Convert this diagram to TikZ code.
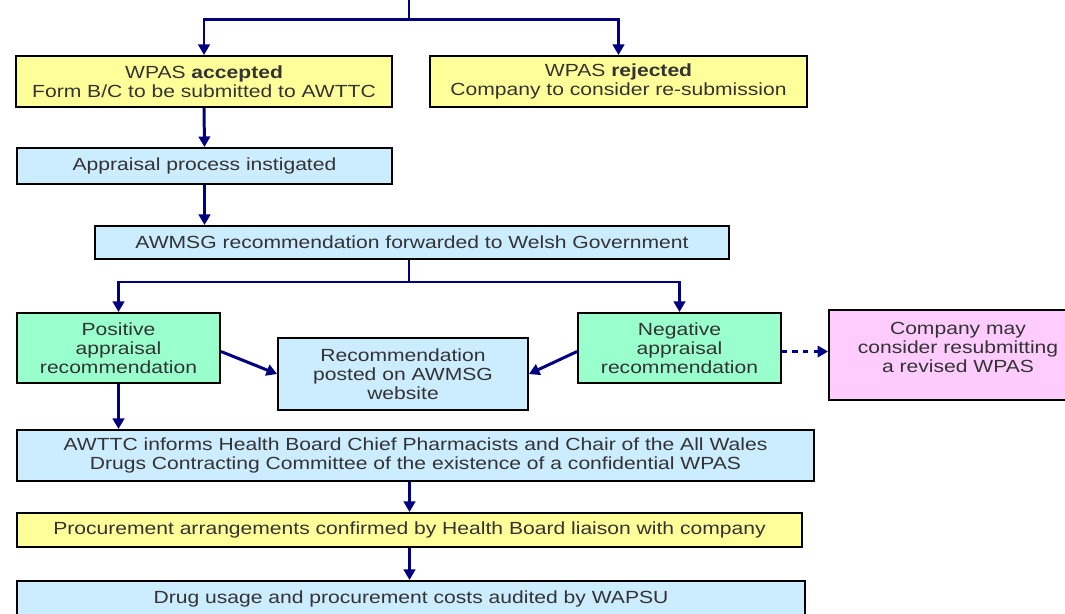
\documentclass[tikz,border=0pt]{standalone}
\usepackage{fontspec}
\setmainfont{Liberation Sans}[FakeStretch=1.2]
\usetikzlibrary{arrows.meta, positioning, calc}
\definecolor{navy1}{RGB}{0, 0, 128}
\definecolor{yellow1}{RGB}{255, 255, 153}
\definecolor{blue1}{RGB}{204, 236, 255}
\definecolor{green1}{RGB}{153, 255, 204}
\definecolor{pink1}{RGB}{255, 204, 255}
\tikzset{
  boxtext/.style={align=center, inner sep=0pt,
    font=\fontsize{10}{10.8}\selectfont, text=black!80},
  box/.style={boxtext, draw=black, line width=1.1pt},
  wpasbox/.style={box, fill=yellow1},
  stagebox/.style={box, fill=blue1},
  outcomebox/.style={box, fill=green1},
  resubbox/.style={box, fill=pink1},
  link/.style={draw=navy1, line width=1.7pt},
  flow/.style={link, -{Triangle[length=6pt, width=6.5pt]}},
}

\begin{document}
\begin{tikzpicture}[x=0.02cm, y=-0.02cm]
  \useasboundingbox (0,0) rectangle (1065,614);
  \clip (0,0) rectangle (1065,614);

  % decision on the WPAS
  \node[wpasbox, minimum width=7.52cm, minimum height=1.02cm] (accepted) at (204,81.5)
    {WPAS \textbf{accepted}\\Form B/C to be submitted to AWTTC};
  \node[wpasbox, minimum width=7.54cm, minimum height=1.02cm] (rejected) at (618.5,81.5)
    {WPAS \textbf{rejected}\\Company to consider re-submission};

  % appraisal
  \node[stagebox, minimum width=7.5cm, minimum height=0.72cm] (appraisal) at (204.5,166)
    {Appraisal process instigated};
  \node[stagebox, minimum width=12.68cm, minimum height=0.66cm] (awmsg) at (412,242.5)
    {AWMSG recommendation forwarded to Welsh Government};

  % outcomes
  \node[outcomebox, minimum width=4.06cm, minimum height=1.4cm] (positive) at (118.5,348)
    {Positive\\appraisal\\recommendation};
  \node[stagebox, minimum width=5cm, minimum height=1.44cm] (posted) at (403,374)
    {Recommendation\\posted on AWMSG\\website};
  \node[outcomebox, minimum width=4.06cm, minimum height=1.4cm] (negative) at (679.5,348)
    {Negative\\appraisal\\recommendation};
  \node[resubbox, minimum width=5.16cm, minimum height=1.8cm] (resubmit) at (958,355) {};
  \node[boxtext] (resubtext) at (958,347)
    {Company may\\consider resubmitting\\a revised WPAS};

  % after a positive outcome
  \node[stagebox, minimum width=15.94cm, minimum height=1.02cm] (informs) at (415.5,455.5)
    {AWTTC informs Health Board Chief Pharmacists and Chair of the All Wales\\
     Drugs Contracting Committee of the existence of a confidential WPAS};
  \node[wpasbox, minimum width=15.7cm, minimum height=0.68cm] (procure) at (409.5,530)
    {Procurement arrangements confirmed by Health Board liaison with company};
  \node[stagebox, minimum width=15.76cm, minimum height=0.7cm] (audit) at (411,598.5)
    {Drug usage and procurement costs audited by WAPSU};

  % connectors
  \coordinate (top) at (409,-5);
  \coordinate (split1) at (409,20);
  \coordinate (split2) at (409,282);
  \draw[link] (top) -- (split1);
  \draw[flow] (split1) -| (accepted.north);
  \draw[flow] (split1) -| (rejected.north);
  \draw[flow] (accepted.south) -- (appraisal.north);
  \draw[flow] (appraisal.south) -- (appraisal.south |- awmsg.north);
  \draw[link] (split2 |- awmsg.south) -- (split2);
  \draw[flow] (split2) -| (positive.north);
  \draw[flow] (split2) -| (negative.north);
  \draw[flow] ([yshift=-2pt]positive.east) -- (posted.west);
  \draw[flow] ([yshift=-2pt]negative.west) -- (posted.east);
  \draw[flow, dashed] ([yshift=-2pt]negative.east) -- ([yshift=-2pt]negative.east -| resubmit.west);
  \draw[flow] (positive.south) -- (positive.south |- informs.north);
  \draw[flow] (procure.north |- informs.south) -- (procure.north);
  \draw[flow] (procure.south) -- (procure.south |- audit.north);
\end{tikzpicture}
\end{document}
